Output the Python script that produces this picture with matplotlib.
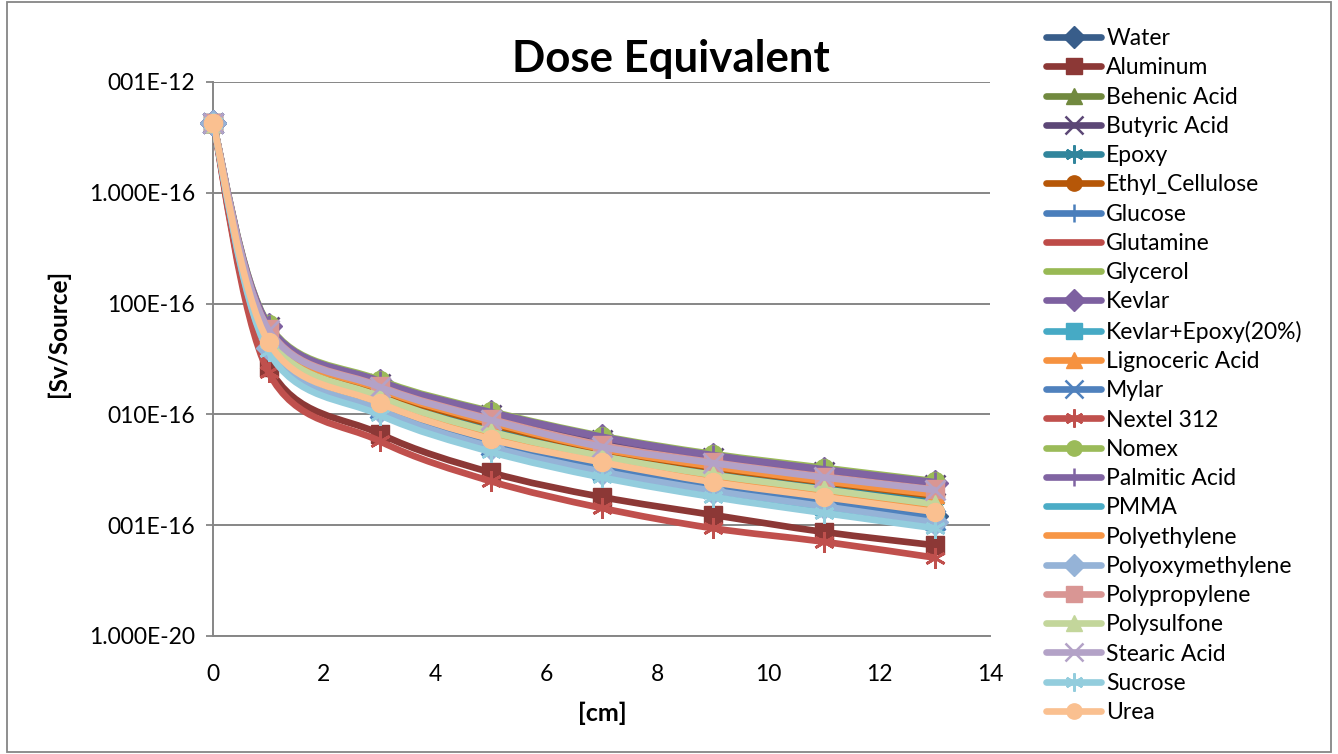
import numpy as np
import matplotlib
matplotlib.use('Agg')
import matplotlib.pyplot as plt
from matplotlib.path import Path
from matplotlib.patches import PathPatch, Rectangle
from matplotlib.lines import Line2D

plt.rcParams['font.family'] = ['Lato', 'DejaVu Sans']

# depth [cm]
depth = [0, 1, 3, 5, 7, 9, 11, 13]

# dose equivalent [Sv/Source]
water = [4.3e-13, 4.3e-15, 1.20e-15, 5.6e-16, 3.40e-16, 2.30e-16, 1.65e-16, 1.20e-16]
aluminum = [4.3e-13, 2.7e-15, 6.70e-16, 3.0e-16, 1.80e-16, 1.24e-16, 8.70e-17, 6.60e-17]
behenic_acid = [4.3e-13, 5.2e-15, 1.52e-15, 7.4e-16, 4.40e-16, 3.00e-16, 2.20e-16, 1.65e-16]
butyric_acid = [4.3e-13, 6.1e-15, 1.90e-15, 9.8e-16, 5.90e-16, 4.00e-16, 3.00e-16, 2.30e-16]
epoxy = [4.3e-13, 5.3e-15, 1.58e-15, 7.8e-16, 4.60e-16, 3.10e-16, 2.30e-16, 1.75e-16]
ethyl_cellulose = [4.3e-13, 5.5e-15, 1.65e-15, 8.2e-16, 4.80e-16, 3.30e-16, 2.45e-16, 1.85e-16]
glucose = [4.3e-13, 4.2e-15, 1.18e-15, 5.5e-16, 3.30e-16, 2.25e-16, 1.60e-16, 1.17e-16]
glutamine = [4.3e-13, 3.9e-15, 1.06e-15, 4.95e-16, 2.95e-16, 1.97e-16, 1.42e-16, 1.02e-16]
glycerol = [4.3e-13, 4.9e-15, 1.42e-15, 6.8e-16, 4.10e-16, 2.80e-16, 2.05e-16, 1.50e-16]
kevlar = [4.3e-13, 6.3e-15, 1.98e-15, 1.03e-15, 6.20e-16, 4.20e-16, 3.15e-16, 2.40e-16]
kevlar_epoxy = [4.3e-13, 4.1e-15, 1.12e-15, 5.3e-16, 3.10e-16, 2.10e-16, 1.50e-16, 1.10e-16]
lignoceric_acid = [4.3e-13, 5.6e-15, 1.70e-15, 8.5e-16, 4.90e-16, 3.40e-16, 2.50e-16, 1.90e-16]
mylar = [4.3e-13, 4.1e-15, 1.15e-15, 5.3e-16, 3.20e-16, 2.15e-16, 1.55e-16, 1.12e-16]
nextel_312 = [4.3e-13, 2.4e-15, 5.75e-16, 2.5e-16, 1.43e-16, 9.40e-17, 7.10e-17, 5.10e-17]
nomex = [4.3e-13, 6.5e-15, 2.05e-15, 1.07e-15, 6.40e-16, 4.40e-16, 3.30e-16, 2.50e-16]
palmitic_acid = [4.3e-13, 6.4e-15, 2.00e-15, 1.05e-15, 6.30e-16, 4.30e-16, 3.20e-16, 2.45e-16]
pmma = [4.3e-13, 3.8e-15, 1.03e-15, 4.8e-16, 2.85e-16, 1.90e-16, 1.36e-16, 9.80e-17]
polyethylene = [4.3e-13, 4.6e-15, 1.30e-15, 6.2e-16, 3.80e-16, 2.55e-16, 1.85e-16, 1.36e-16]
polyoxymethylene = [4.3e-13, 4.0e-15, 1.10e-15, 5.1e-16, 3.05e-16, 2.05e-16, 1.48e-16, 1.06e-16]
polypropylene = [4.3e-13, 5.9e-15, 1.80e-15, 9.1e-16, 5.30e-16, 3.70e-16, 2.75e-16, 2.10e-16]
polysulfone = [4.3e-13, 5.0e-15, 1.45e-15, 7.0e-16, 4.20e-16, 2.85e-16, 2.10e-16, 1.55e-16]
stearic_acid = [4.3e-13, 5.8e-15, 1.77e-15, 8.9e-16, 5.10e-16, 3.64e-16, 2.70e-16, 2.08e-16]
sucrose = [4.3e-13, 3.7e-15, 9.90e-16, 4.6e-16, 2.70e-16, 1.80e-16, 1.29e-16, 9.40e-17]
urea = [4.3e-13, 4.5e-15, 1.27e-15, 6.0e-16, 3.70e-16, 2.45e-16, 1.80e-16, 1.32e-16]

names = ['Water', 'Aluminum', 'Behenic Acid', 'Butyric Acid', 'Epoxy', 'Ethyl_Cellulose',
         'Glucose', 'Glutamine', 'Glycerol', 'Kevlar', 'Kevlar+Epoxy(20%)', 'Lignoceric Acid',
         'Mylar', 'Nextel 312', 'Nomex', 'Palmitic Acid', 'PMMA', 'Polyethylene',
         'Polyoxymethylene', 'Polypropylene', 'Polysulfone', 'Stearic Acid', 'Sucrose', 'Urea']
series = [water, aluminum, behenic_acid, butyric_acid, epoxy, ethyl_cellulose,
          glucose, glutamine, glycerol, kevlar, kevlar_epoxy, lignoceric_acid,
          mylar, nextel_312, nomex, palmitic_acid, pmma, polyethylene,
          polyoxymethylene, polypropylene, polysulfone, stearic_acid, sucrose, urea]

colors = ['#385D8A', '#8C3836', '#71893F', '#5C4776', '#31859C', '#B65708',
          '#4A7EBB', '#BE4B48', '#98B954', '#7D60A0', '#46AAC5', '#F69240',
          '#4F81BD', '#C0504D', '#9BBB59', '#8064A2', '#4BACC6', '#F79646',
          '#95B3D7', '#D99694', '#C3D69B', '#B3A2C7', '#93CDDD', '#FAC090']
star = (6, 2, 0)
markers = ['D', 's', '^', 'x', star, 'o', '+', None, None,
           'D', 's', '^', 'x', star, 'o', '+', None, None,
           'D', 's', '^', 'x', star, 'o']


def smooth_path(x, y):
    # excel-like smoothed line: catmull-rom bezier in (x, log y)
    pts = np.column_stack([np.array(x, float), np.log10(y)])
    n = len(pts)
    verts = [pts[0]]
    codes = [Path.MOVETO]
    for i in range(n - 1):
        p0 = pts[max(i - 1, 0)]
        p1 = pts[i]
        p2 = pts[i + 1]
        p3 = pts[min(i + 2, n - 1)]
        verts += [p1 + (p2 - p0) / 6, p2 - (p3 - p1) / 6, p2]
        codes += [Path.CURVE4] * 3
    verts = np.array(verts)
    verts[:, 1] = 10 ** verts[:, 1]
    return Path(verts, codes)


fig = plt.figure(figsize=(13.38, 7.54), dpi=100)
ax = fig.add_axes([213 / 1338, 1 - 636 / 754, 777 / 1338, 554 / 754])

grid_c = '#868686'
ax.set_yscale('log')
ax.set_xlim(0, 14)
ax.set_ylim(1e-17, 1e-12)

handles = []
for i, (name, vals, c, m) in enumerate(zip(names, series, colors, markers)):
    z = 3 + i * 0.01
    ax.add_patch(PathPatch(smooth_path(depth, vals), fill=False, edgecolor=c, lw=4.8,
                           capstyle='round', joinstyle='round', zorder=z))
    thin = m in ('x', '+', star)
    if m is not None:
        ax.plot(depth, vals, ls='none', marker=m, markersize=13 if not thin else 15,
                markerfacecolor=c, markeredgecolor=c, markeredgewidth=2 if thin else 1,
                zorder=z + 0.005, clip_on=False)
    handles.append(Line2D([], [], color=c, lw=4.8, solid_capstyle='round', marker=m,
                          markersize=11 if not thin else 13, markerfacecolor=c,
                          markeredgecolor=c, markeredgewidth=1.8 if thin else 1, label=name))

ax.set_yticks([1e-12, 1e-13, 1e-14, 1e-15, 1e-16, 1e-17])
ax.set_yticklabels(['001E-12', '1.000E-16', '100E-16', '010E-16', '001E-16', '1.000E-20'])
ax.yaxis.set_minor_locator(matplotlib.ticker.NullLocator())
ax.set_xticks(range(0, 15, 2))
ax.tick_params(axis='y', labelsize=16.5, length=5, color=grid_c, width=1.3, pad=8)
ax.tick_params(axis='x', labelsize=16.5, length=0, pad=20)
ax.grid(axis='y', color=grid_c, lw=1.4)
ax.set_axisbelow(True)
for s in ['top', 'right']:
    ax.spines[s].set_visible(False)
for s in ['left', 'bottom']:
    ax.spines[s].set_color(grid_c)
    ax.spines[s].set_linewidth(1.4)

fig.text(671 / 1338, 1 - 59 / 754, 'Dose Equivalent', ha='center', va='center',
         fontsize=31.5, fontweight='bold')
fig.text(58 / 1338, 1 - 333 / 754, '[Sv/Source]', ha='center', va='center',
         rotation=90, fontsize=17.5, fontweight='bold')
fig.text(602 / 1338, 1 - 713 / 754, '[cm]', ha='center', va='center',
         fontsize=18, fontweight='bold')

fig.legend(handles=handles, loc='upper left', bbox_to_anchor=(1037 / 1338, 1 - 19 / 754),
           frameon=False, fontsize=16.5, handlelength=2.4, handletextpad=0.22,
           labelspacing=0.36, borderaxespad=0)

fig.patches.append(Rectangle((7 / 1338, 2 / 754), 1324 / 1338, 750 / 754, fill=False,
                             edgecolor='#868686', lw=1.3, transform=fig.transFigure))

fig.savefig('out.png', dpi=100)
